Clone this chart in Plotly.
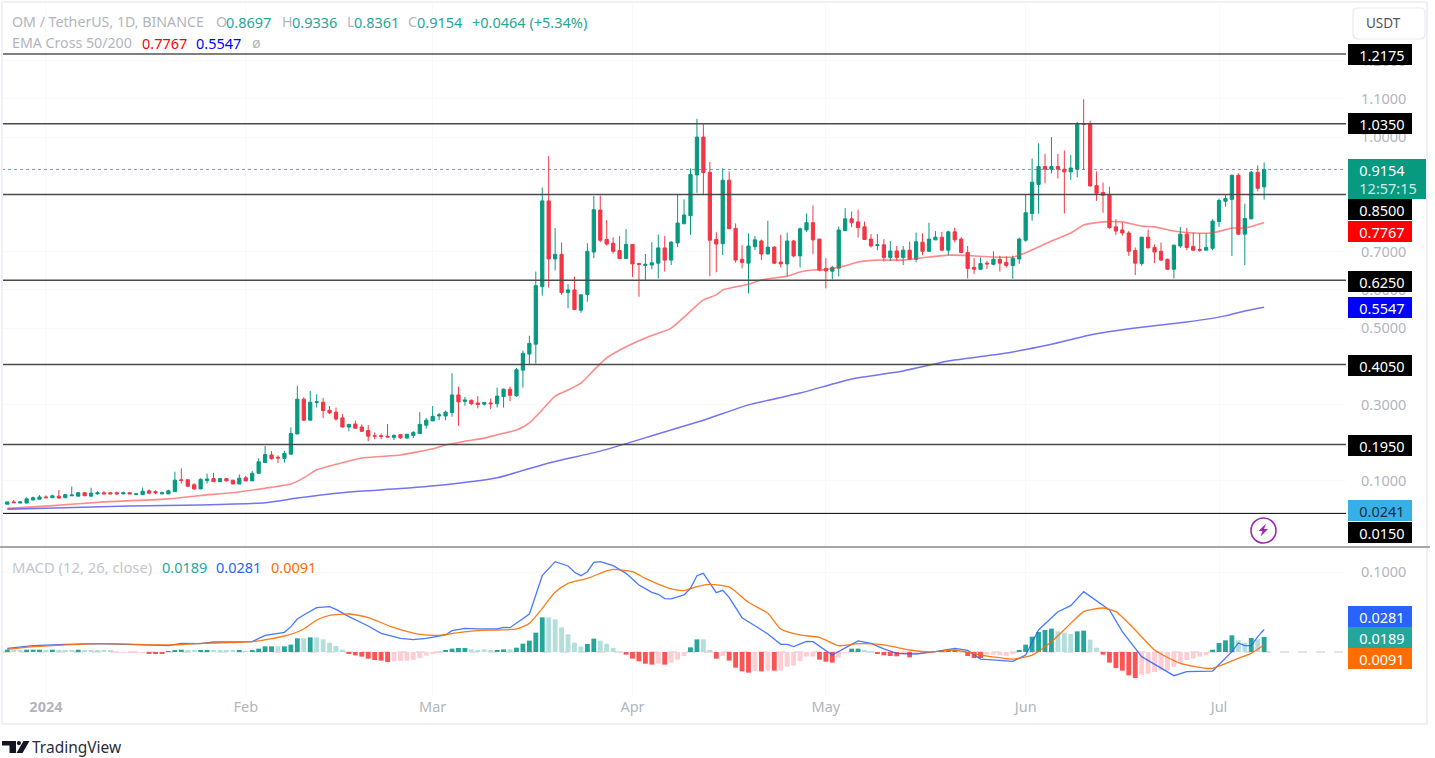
import pandas as pd
import plotly.graph_objects as go

# ---------- price data (OM/USDT daily) ----------
first_day = "2023-12-26"
opens = [
 .039,.045,.042,.042,.050,.052,.058,.056,.060,.056,
 .061,.060,.069,.060,.066,.069,.069,.069,.066,.069,
 .064,.064,.074,.072,.066,.066,.072,.103,.103,.090,
 .079,.101,.106,.098,.106,.102,.092,.108,.100,.120,
 .148,.168,.162,.159,.170,.223,.314,.259,.305,.306,
 .285,.280,.265,.241,.249,.241,.232,.218,.218,.217,
 .214,.221,.212,.219,.224,.246,.257,.270,.270,.279,
 .325,.308,.311,.304,.301,.304,.302,.321,.340,.323,
 .390,.432,.458,.609,.833,.681,.693,.593,.600,.547,
 .588,.699,.809,.732,.722,.703,.682,.719,.669,.664,
 .665,.670,.710,.678,.723,.773,.794,.901,1.000,.908,
 .732,.721,.887,.761,.680,.670,.713,.728,.694,.712,
 .673,.668,.728,.689,.757,.776,.733,.656,.649,.657,
 .755,.786,.778,.765,.733,.716,.718,.685,.702,.685,
 .704,.680,.725,.701,.731,.738,.704,.752,.733,.698,
 .659,.654,.670,.667,.680,.672,.664,.681,.730,.800,
 .876,.923,.916,.923,.916,.909,.916,1.034,1.033,.873,
 .855,.848,.765,.757,.749,.703,.669,.738,.711,.701,
 .680,.654,.715,.746,.714,.706,.704,.709,.779,.832,
 .837,.900,.746,.786,.908,.8697]
closes = [
 .045,.043,.045,.053,.056,.058,.056,.061,.055,.064,
 .063,.069,.061,.068,.069,.066,.066,.066,.069,.066,
 .066,.073,.068,.069,.069,.074,.102,.101,.086,.079,
 .104,.105,.098,.106,.100,.092,.107,.100,.120,.150,
 .169,.158,.160,.172,.224,.314,.259,.306,.307,.284,
 .278,.262,.241,.248,.238,.230,.217,.217,.217,.215,
 .219,.213,.222,.227,.248,.259,.269,.273,.280,.325,
 .307,.312,.302,.300,.305,.302,.322,.340,.324,.391,
 .434,.460,.611,.833,.681,.693,.593,.600,.549,.587,
 .701,.810,.730,.720,.701,.682,.719,.668,.667,.667,
 .671,.710,.678,.725,.775,.796,.902,1.000,.907,.730,
 .720,.887,.760,.678,.672,.715,.731,.694,.712,.670,
 .668,.728,.689,.760,.776,.731,.652,.650,.659,.757,
 .786,.776,.763,.732,.715,.718,.685,.702,.685,.704,
 .680,.726,.701,.733,.738,.704,.752,.731,.698,.656,
 .654,.669,.668,.680,.670,.664,.683,.733,.802,.882,
 .923,.916,.923,.916,.909,.919,1.033,1.033,.872,.853,
 .848,.763,.754,.749,.701,.670,.738,.710,.699,.678,
 .654,.717,.746,.711,.704,.704,.711,.780,.834,.839,
 .900,.746,.787,.908,.866,.9154]
highs = [
 .045,.050,.047,.057,.059,.063,.062,.064,.076,.066,
 .085,.071,.071,.082,.073,.073,.071,.072,.072,.071,
 .068,.083,.078,.075,.072,.077,.124,.133,.103,.094,
 .107,.119,.121,.108,.107,.102,.117,.113,.126,.159,
 .191,.178,.167,.179,.240,.349,.319,.336,.327,.317,
 .296,.292,.275,.249,.258,.248,.246,.227,.224,.249,
 .222,.222,.223,.230,.280,.265,.296,.278,.284,.382,
 .347,.320,.313,.322,.307,.316,.344,.342,.347,.396,
 .441,.480,.648,.868,.950,.762,.724,.615,.635,.589,
 .722,.846,.847,.783,.738,.741,.759,.719,.669,.694,
 .725,.745,.741,.728,.849,.837,.918,1.048,1.034,.935,
 .751,.918,.910,.774,.717,.748,.741,.732,.781,.715,
 .744,.750,.731,.763,.800,.821,.733,.683,.663,.766,
 .814,.805,.810,.779,.746,.746,.733,.728,.715,.715,
 .726,.750,.748,.776,.754,.752,.755,.763,.738,.715,
 .683,.685,.676,.701,.689,.688,.690,.737,.849,.944,
 .984,.956,1.000,.956,.965,.953,1.040,1.099,1.043,.910,
 .881,.870,.785,.776,.754,.711,.739,.758,.719,.724,
 .682,.719,.765,.762,.750,.748,.748,.785,.839,.848,
 .902,.905,.826,.911,.926,.9336]
lows = [
 .039,.043,.042,.042,.050,.052,.056,.056,.055,.056,
 .061,.060,.061,.060,.064,.066,.066,.064,.066,.066,
 .064,.064,.065,.065,.066,.066,.072,.093,.084,.077,
 .079,.093,.098,.098,.099,.092,.092,.100,.100,.120,
 .148,.156,.147,.148,.169,.222,.257,.259,.292,.265,
 .276,.258,.240,.230,.237,.228,.204,.209,.209,.214,
 .207,.210,.212,.212,.224,.237,.257,.259,.259,.268,
 .244,.297,.298,.290,.297,.288,.292,.292,.309,.320,
 .344,.406,.407,.585,.606,.651,.587,.552,.547,.540,
 .569,.683,.725,.716,.695,.681,.681,.634,.582,.623,
 .654,.630,.648,.665,.712,.773,.744,.854,.848,.636,
 .646,.691,.760,.671,.656,.591,.704,.678,.694,.667,
 .659,.636,.685,.659,.752,.694,.649,.604,.628,.635,
 .755,.764,.737,.731,.711,.704,.674,.676,.676,.665,
 .678,.672,.691,.701,.731,.703,.691,.724,.696,.630,
 .642,.652,.655,.664,.648,.659,.629,.668,.726,.781,
 .800,.879,.905,.892,.800,.888,.895,.914,.871,.833,
 .802,.760,.744,.742,.689,.639,.663,.709,.670,.676,
 .652,.630,.710,.704,.703,.700,.704,.704,.765,.818,
 .689,.744,.665,.785,.858,.8361]

ema50_dates = ["2023-12-26","2024-01-01","2024-01-10","2024-01-20","2024-01-25","2024-01-30","2024-02-04","2024-02-08","2024-02-10","2024-02-12","2024-02-14","2024-02-17","2024-02-19","2024-02-22","2024-02-25","2024-02-27","2024-03-01","2024-03-03","2024-03-06","2024-03-09","2024-03-11","2024-03-14","2024-03-16","2024-03-18","2024-03-20","2024-03-22","2024-03-24","2024-03-26","2024-03-28","2024-03-31","2024-04-03","2024-04-07","2024-04-09","2024-04-12","2024-04-14","2024-04-15","2024-04-17","2024-04-19","2024-04-21","2024-04-25","2024-04-27","2024-04-29","2024-05-01","2024-05-04","2024-05-06","2024-05-09","2024-05-13","2024-05-17","2024-05-20","2024-05-23","2024-05-27","2024-05-30","2024-06-01","2024-06-05","2024-06-08","2024-06-10","2024-06-13","2024-06-16","2024-06-19","2024-06-21","2024-06-24","2024-06-27","2024-06-30","2024-07-03","2024-07-05","2024-07-08"]
ema50_values = [.028,.034,.045,.053,.062,.069,.081,.092,.108,.129,.139,.152,.160,.164,.168,.174,.184,.194,.204,.212,.221,.233,.252,.286,.322,.338,.356,.390,.422,.451,.474,.500,.529,.574,.587,.600,.608,.615,.626,.636,.647,.652,.653,.663,.673,.678,.678,.686,.691,.690,.686,.686,.697,.728,.749,.770,.778,.778,.767,.765,.754,.749,.749,.762,.762,.7767]
ema200_dates = ["2023-12-26","2024-01-14","2024-01-25","2024-02-04","2024-02-09","2024-02-17","2024-02-25","2024-03-04","2024-03-11","2024-03-19","2024-03-27","2024-04-04","2024-04-12","2024-04-19","2024-04-27","2024-05-05","2024-05-13","2024-05-20","2024-05-28","2024-06-05","2024-06-11","2024-06-18","2024-06-26","2024-07-02","2024-07-05","2024-07-08"]
ema200_values = [.026,.034,.037,.043,.055,.071,.080,.092,.108,.147,.178,.218,.259,.299,.330,.367,.388,.414,.432,.458,.482,.500,.516,.532,.545,.5547]

# ---------- MACD ----------
hist_values = [
 .0029,.0021,.0021,.0029,.0029,.0029,.0021,.0029,.0021,.0021,
 .0021,.0029,.0013,.0013,.0013,.0013,.0013,-.0008,-.0008,-.0008,
 -.0008,-.0004,-.0013,-.0013,-.0025,.0004,.0021,.0029,.0021,.0013,
 .0017,.0025,.0021,.0017,.0013,.0013,.0017,.0008,.0021,.0042,
 .0071,.0071,.0071,.0071,.0092,.0171,.0171,.0183,.0183,.0158,
 .0117,.0075,.0029,-.0013,-.0042,-.0058,-.0083,-.0100,-.0108,-.0125,
 -.0117,-.0113,-.0108,-.0100,-.0075,-.0046,-.0025,-.0008,.0013,.0042,
 .0050,.0050,.0033,.0025,.0033,.0013,.0017,.0033,.0033,.0054,
 .0104,.0142,.0242,.0433,.0433,.0408,.0308,.0221,.0117,.0067,
 .0100,.0167,.0142,.0104,.0050,-.0008,-.0033,-.0083,-.0117,-.0146,
 -.0158,-.0146,-.0158,-.0133,-.0096,-.0050,.0058,.0158,.0158,.0013,
 -.0083,-.0050,-.0108,-.0196,-.0242,-.0258,-.0238,-.0242,-.0233,-.0233,
 -.0233,-.0183,-.0171,-.0113,-.0058,-.0058,-.0096,-.0121,-.0133,-.0067,
 -.0008,.0042,.0042,.0021,.0008,-.0013,-.0042,-.0050,-.0054,-.0033,
 -.0067,-.0021,-.0013,-.0008,.0008,.0013,.0017,.0013,.0004,-.0050,
 -.0075,-.0075,-.0033,-.0033,-.0042,-.0050,-.0029,.0025,.0092,.0192,
 .0250,.0275,.0292,.0258,.0242,.0225,.0258,.0267,.0154,.0054,
 -.0033,-.0133,-.0200,-.0233,-.0292,-.0325,-.0283,-.0271,-.0250,-.0229,
 -.0233,-.0188,-.0142,-.0100,-.0083,-.0058,-.0042,.0029,.0113,.0146,
 .0208,.0146,.0117,.0175,.0158,.0189]
hist_tones = ("GggGGGgGgg" "gGgggggrrr" "rrRRRGGGgg" "GGggggGgGG" "GGgGGGgGgg"
              "gggRRRRRRR" "rrrrrrrrGG" "GGggggGGgG" "GGGGgggggg" "GGgggrRRRR"
              "RrRrrrGGgg" "RrRRRRrRrR" "rrrrrrRRRr" "rGGggRRRRr" "RrrrgGGGgR"
              "RRrrrrrGGG" "GGGgggGGgg" "RRRRRRrrrr" "rrrrrrrGGG" "GggGgG")
macd_days = [1,5,10,15,21,26,28,31,33,39,41,44,45,46,47,49,51,52,54,57,59,62,64,66,69,70,72,74,77,78,79,82,83,84,86,88,89,90,91,92,93,95,97,99,101,102,103,104,106,107,108,109,111,112,113,115,117,119,121,122,123,125,126,129,132,133,135,137,139,142,145,148,150,152,155,157,159,161,164,166,168,172,174,177,182,184,188,191,192,193,194,195,196]
macd_values = [.0046,.0079,.0096,.0104,.0092,.0079,.0108,.0104,.0125,.0129,.0208,.0246,.0317,.0413,.0463,.0554,.0567,.0533,.0442,.0325,.0233,.0171,.0154,.0171,.0213,.0267,.0296,.0288,.0288,.0308,.0304,.0475,.0713,.0954,.1129,.1075,.0996,.0954,.1004,.1121,.1129,.1079,.0983,.0838,.0746,.0721,.0667,.0663,.0713,.0796,.0954,.0983,.0742,.0771,.0683,.0429,.0329,.0225,.0096,.0096,.0067,.0133,.0129,-.0038,.0096,.0138,.0108,.0038,-.0017,-.0025,.0004,.0046,.0021,-.0088,-.0104,-.0117,-.0038,.0275,.0504,.0579,.0754,.0525,.0254,-.0058,-.0296,-.0246,-.0238,.0004,.0113,.0079,.0079,.0192,.0281]
signal_days = [1,5,10,15,21,26,31,39,44,47,49,51,54,57,61,65,68,71,74,77,80,82,84,86,88,91,94,95,98,100,104,106,108,110,113,116,119,121,124,127,130,133,137,141,144,146,148,152,155,157,160,163,166,168,171,173,176,179,183,187,188,192,194,196]
signal_values = [.0033,.0067,.0088,.0104,.0096,.0088,.0108,.0129,.0200,.0288,.0400,.0458,.0475,.0429,.0304,.0221,.0208,.0242,.0267,.0275,.0288,.0358,.0546,.0746,.0858,.0921,.1013,.1033,.1004,.0921,.0788,.0767,.0817,.0846,.0813,.0621,.0483,.0288,.0213,.0183,.0079,.0104,.0088,.0025,.0000,.0013,.0025,-.0038,-.0071,-.0088,-.0038,.0129,.0358,.0504,.0550,.0504,.0275,.0025,-.0142,-.0204,-.0204,-.0079,-.0017,.0091]

# ---------- levels and labels ----------
levels = [1.2175, 1.0350, 0.8500, 0.6250, 0.4050, 0.1950, 0.0150]
last_close = 0.9154
price_ticks = [1.2, 1.1, 1.0, 0.7, 0.6, 0.5, 0.3, 0.1]
month_ticks = ["2024-01-01", "2024-02-01", "2024-03-01", "2024-04-01", "2024-05-01", "2024-06-01", "2024-07-01"]
month_labels = ["<b>2024</b>", "Feb", "Mar", "Apr", "May", "Jun", "Jul"]

assert len(opens) == len(closes) == len(highs) == len(lows) == len(hist_values) == len(hist_tones) == 196
assert len(macd_days) == len(macd_values) and len(signal_days) == len(signal_values)
assert len(ema50_dates) == len(ema50_values) and len(ema200_dates) == len(ema200_values)

W, H = 1435, 758
FONT = "Noto Sans"
GREY = "#b2b5be"
GREEN = "#089981"
RED = "#F23645"
TONE = {"G": "#26A69A", "g": "#B2DFDB", "R": "#FF5252", "r": "#FFCDD2"}
NUM = 14.5


def px(x):
    return x / W


def py(y):
    return 1 - y / H


dates = pd.date_range(first_day, periods=len(opens))

fig = go.Figure()
fig.add_trace(go.Candlestick(
    x=dates, open=opens, high=highs, low=lows, close=closes,
    increasing=dict(line=dict(color=GREEN, width=1), fillcolor=GREEN),
    decreasing=dict(line=dict(color=RED, width=1), fillcolor=RED),
    whiskerwidth=0, xaxis="x", yaxis="y", showlegend=False, hoverinfo="skip"))
fig.add_trace(go.Scatter(x=ema50_dates, y=ema50_values, mode="lines",
                         line=dict(color="rgba(255,60,60,0.6)", width=1.6, shape="spline", smoothing=0.5),
                         xaxis="x", yaxis="y", showlegend=False, hoverinfo="skip"))
fig.add_trace(go.Scatter(x=ema200_dates, y=ema200_values, mode="lines",
                         line=dict(color="rgba(40,40,240,0.65)", width=1.5, shape="spline", smoothing=0.5),
                         xaxis="x", yaxis="y", showlegend=False, hoverinfo="skip"))
fig.add_trace(go.Bar(x=dates, y=hist_values, marker=dict(color=[TONE[t] for t in hist_tones], line_width=0),
                     xaxis="x2", yaxis="y2", showlegend=False, hoverinfo="skip"))
fig.add_trace(go.Scatter(x=[dates[i - 1] for i in macd_days], y=macd_values, mode="lines",
                         line=dict(color="#2962FF", width=1.3), opacity=0.85,
                         xaxis="x2", yaxis="y2", showlegend=False, hoverinfo="skip"))
fig.add_trace(go.Scatter(x=[dates[i - 1] for i in signal_days], y=signal_values, mode="lines",
                         line=dict(color="#FF6D00", width=1.3, shape="spline", smoothing=0.6), opacity=0.9,
                         xaxis="x2", yaxis="y2", showlegend=False, hoverinfo="skip"))

shapes = []
for lv in levels:
    edge = lv in (levels[0], levels[-1])
    shapes.append(dict(type="line", xref="paper", yref="y", x0=px(2), x1=px(1346), y0=lv, y1=lv,
                       line=dict(color="#000000" if edge else "#4a4a4a", width=1 if edge else 1.5)))
shapes.append(dict(type="line", xref="paper", yref="y", x0=px(2), x1=px(1346), y0=last_close, y1=last_close,
                   line=dict(color="rgba(8,153,129,0.75)", width=1, dash="dot")))
shapes.append(dict(type="line", xref="paper", yref="y2", x0=px(2), x1=px(1346), y0=0, y1=0,
                   line=dict(color="#c8c8c8", width=1, dash="dash"), layer="below"))
# frame and separators
frame = "#eef0f6"
for x0, y0, x1, y1 in [(2, 2, 1427, 2), (2, 2, 2, 724), (1427, 2, 1427, 724), (2, 724, 1427, 724)]:
    shapes.append(dict(type="line", xref="paper", yref="paper", x0=px(x0), x1=px(x1), y0=py(y0), y1=py(y1),
                       line=dict(color=frame, width=2)))
shapes.append(dict(type="line", xref="paper", yref="paper", x0=0, x1=px(1430), y0=py(547), y1=py(547),
                   line=dict(color="#8a8a8a", width=1.5)))
# USDT button
bx0, by0, bx1, by1, r = 1353, 8, 1425, 39, 5
path = (f"M {px(bx0 + r)} {py(by0)} L {px(bx1 - r)} {py(by0)} Q {px(bx1)} {py(by0)} {px(bx1)} {py(by0 + r)} "
        f"L {px(bx1)} {py(by1 - r)} Q {px(bx1)} {py(by1)} {px(bx1 - r)} {py(by1)} L {px(bx0 + r)} {py(by1)} "
        f"Q {px(bx0)} {py(by1)} {px(bx0)} {py(by1 - r)} L {px(bx0)} {py(by0 + r)} Q {px(bx0)} {py(by0)} {px(bx0 + r)} {py(by0)} Z")
shapes.append(dict(type="path", xref="paper", yref="paper", path=path, fillcolor="white",
                   line=dict(color="#e8e9f1", width=1.2)))
# lightning icon
shapes.append(dict(type="circle", xref="paper", yref="paper", x0=px(1251), x1=px(1276), y0=py(518), y1=py(543),
                   fillcolor="white", line=dict(color="#9C27B0", width=1.6)))
bolt = [(1266, 523.5), (1258.5, 531), (1262.5, 531), (1260.5, 536.5), (1268, 529), (1264, 529)]
shapes.append(dict(type="path", xref="paper", yref="paper", line_width=0, fillcolor="#9C27B0",
                   path="M " + " L ".join(f"{px(a)} {py(b)}" for a, b in bolt) + " Z"))


def poly(points):
    return "M " + " L ".join(f"{px(a)} {py(b)}" for a, b in points) + " Z"


# TradingView logo
logo = "#131722"
shapes.append(dict(type="path", xref="paper", yref="paper", line_width=0, fillcolor=logo,
                   path=poly([(2, 741), (16, 741), (16, 753), (9.5, 753), (9.5, 745.5), (2, 745.5)])))
shapes.append(dict(type="circle", xref="paper", yref="paper", line_width=0, fillcolor=logo,
                   x0=px(16.8), x1=px(21), y0=py(741), y1=py(745.2)))
shapes.append(dict(type="path", xref="paper", yref="paper", line_width=0, fillcolor=logo,
                   path=poly([(23.5, 741), (29.5, 741), (22.5, 753), (16.5, 753)])))

ann = []


def text(x, y, s, color, size=14.2, anchor="left"):
    ann.append(dict(xref="paper", yref="paper", x=px(x), y=py(y), text=s,
                    showarrow=False, xanchor=anchor, yanchor="middle",
                    font=dict(family=FONT, size=size, color=color), borderpad=0, borderwidth=0))


LG = "#26A69A"
text(12, 22, "OM / TetherUS, 1D, BINANCE", GREY)
for xl, lab, xv, val in [(216, "O", 226, "0.8697"), (282, "H", 292, "0.9336"), (347, "L", 354, "0.8361"), (408, "C", 417, "0.9154")]:
    text(xl, 22, lab, GREY)
    text(xv, 22, val, LG, size=NUM)
text(472, 22, "+0.0464 (+5.34%)", LG, size=NUM)
text(12, 43, "EMA Cross 50/200", GREY)
text(142, 43, "0.7767", "#FF0000", size=NUM)
text(196, 43, "0.5547", "#0000FF", size=NUM)
text(252, 43, "ø", GREY)
text(12, 567, "MACD (12, 26, close)", "#c4c6cd", size=14.8)
text(162, 567, "0.0189", LG, size=NUM)
text(216, 567, "0.0281", "#2962FF", size=NUM)
text(271, 567, "0.0091", "#FF6D00", size=NUM)
text(1383, 23, "USDT", "#50535E", size=13.5, anchor="center")
text(32, 747, "TradingView", "#2a2e39", size=15.5)


def tag(y, s, bg, color="#ffffff", height=21, width=64):
    ann.append(dict(xref="paper", yref="paper", x=px(1348), y=py(y), xanchor="left", yanchor="middle",
                    text="&nbsp;&nbsp;&nbsp;" + s, showarrow=False, bgcolor=bg, width=width, height=height, align="left",
                    valign="middle", borderpad=0, borderwidth=0,
                    font=dict(family=FONT, size=NUM, color=color)))


tag(55, "1.2175", "#000000")
tag(124, "1.0350", "#000000")
tag(209, "0.8500", "#000000")
tag(231, "0.7767", "#FF0000")
tag(281, "0.6250", "#000000")
tag(308, "0.5547", "#0000FF")
tag(365, "0.4050", "#000000")
tag(445, "0.1950", "#000000")
tag(510.5, "0.0241", "#37B0E8", color="#10303f")
tag(532, "0.0150", "#000000")
tag(616, "0.0281", "#2962FF")
tag(637.5, "0.0189", "#26A69A")
tag(658.5, "0.0091", "#FF6D00")
ann.append(dict(xref="paper", yref="paper", x=px(1348), y=py(179), xanchor="left", yanchor="middle",
                text="&nbsp;&nbsp;&nbsp;0.9154<br>&nbsp;&nbsp;&nbsp;<span style='color:#c9ebe4'>12:57:15</span>",
                showarrow=False, bgcolor=GREEN,
                width=78, height=40, align="left", valign="middle", borderpad=0, borderwidth=0,
                font=dict(family=FONT, size=NUM, color="#ffffff")))

grid = "#f8f9fb"
fig.update_layout(
    width=W, height=H, margin=dict(l=0, r=0, t=0, b=0), autosize=False,
    paper_bgcolor="white", plot_bgcolor="white", bargap=0.25, boxgap=0.28,
    font=dict(family=FONT, size=NUM, color=GREY),
    shapes=shapes, annotations=ann,
    xaxis=dict(domain=[px(2), px(1346)], range=["2023-12-25 04:20", "2024-07-20 16:48"], type="date",
               anchor="y", showticklabels=False, ticks="", showline=False, zeroline=False,
               tickvals=month_ticks, showgrid=True, gridcolor=grid, rangeslider=dict(visible=False)),
    yaxis=dict(domain=[py(547), py(4)], range=[-0.0730, 1.3484], side="right", anchor="x",
               tickvals=price_ticks, tickformat=".4f", showgrid=True, gridcolor=grid, zeroline=False,
               ticks="", showline=False, ticklabelstandoff=14, tickfont=dict(family=FONT, size=NUM, color=GREY)),
    xaxis2=dict(domain=[px(2), px(1346)], range=["2023-12-25 04:20", "2024-07-20 16:48"], type="date",
                anchor="y2", tickvals=month_ticks, ticktext=month_labels, ticks="", showline=False, zeroline=False,
                showgrid=True, gridcolor=grid, tickfont=dict(family=FONT, size=NUM, color=GREY)),
    yaxis2=dict(domain=[py(696), py(549)], range=[-0.055, 0.12875], side="right", anchor="x2",
                tickvals=[0.1], tickformat=".4f", showgrid=True, gridcolor=grid, zeroline=False,
                ticks="", showline=False, ticklabelstandoff=14, tickfont=dict(family=FONT, size=NUM, color=GREY)),
)

fig.write_html("out.html", config=dict(displayModeBar=False),
               post_script="document.body.style.margin='0';document.body.style.overflow='hidden';")
